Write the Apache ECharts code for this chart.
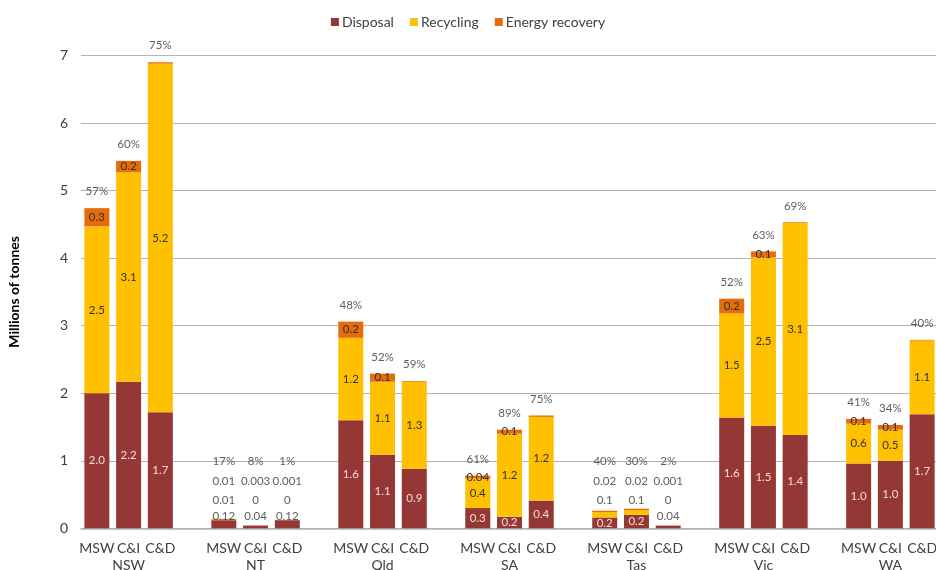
<!DOCTYPE html>
<html>
<head>
<meta charset="utf-8">
<script src="https://cdn.jsdelivr.net/npm/echarts@6/dist/echarts.min.js"></script>
<style>html,body{margin:0;padding:0;background:#fff}#c{width:936px;height:570px}</style>
</head>
<body>
<div id="c"></div>
<script>
// ---- data (millions of tonnes) ----
const states = ['NSW', 'NT', 'Qld', 'SA', 'Tas', 'Vic', 'WA'];
const streams = ['MSW', 'C&I', 'C&D'];
// order: per state MSW, C&I, C&D
const disposal = [2.0, 2.17, 1.72, 0.12, 0.04, 0.12, 1.60, 1.09, 0.88, 0.30, 0.17, 0.41, 0.16, 0.2, 0.04, 1.64, 1.52, 1.38, 0.96, 1.0, 1.69];
const recycling = [2.47, 3.10, 5.16, 0.01, 0, 0, 1.22, 1.08, 1.29, 0.44, 1.23, 1.24, 0.08, 0.07, 0, 1.54, 2.49, 3.14, 0.59, 0.46, 1.09];
const energy = [0.27, 0.17, 0.02, 0.01, 0.003, 0.001, 0.24, 0.12, 0.01, 0.04, 0.06, 0.02, 0.02, 0.02, 0.001, 0.22, 0.09, 0.01, 0.07, 0.07, 0.01];
const recoveryRate = [57, 60, 75, 17, 8, 1, 48, 52, 59, 61, 89, 75, 40, 30, 2, 52, 63, 69, 41, 34, 40];
const yMin = 0, yMax = 7, yInterval = 1;

// ---- build category slots (blank slot between states) ----
const cats = [];
const slotOf = [];
states.forEach((s, g) => {
  streams.forEach((st, k) => {
    slotOf.push(cats.length);
    cats.push(st + '|' + (k === 1 ? s : '') + '|' + cats.length);
  });
  if (g < states.length - 1) cats.push('||' + cats.length);
});
const N = cats.length;
const totals = disposal.map((d, i) => d + recycling[i] + energy[i]);

function fmt(v, total) {
  if (v === 0) return '0';
  if (v < 0.05) return String(v);
  if (total < 0.2) return String(v);
  return v.toFixed(1);
}

const FONT = 'Lato, "Noto Sans", sans-serif';
const TXT = '#404040';

function barData(arr, key) {
  const out = new Array(N).fill(null);
  arr.forEach((v, i) => {
    const t = totals[i];
    let show;
    if (t >= 0.5) show = !(key === 'energy' && v < 0.03);
    else show = (key === 'disposal' && v >= 0.15);
    out[slotOf[i]] = { value: v, label: { show: show } };
  });
  return out;
}

// annotation labels (percentages, and values above the tiny bars)
const ann = [];
disposal.forEach((d, i) => {
  const s = slotOf[i], t = totals[i];
  if (t >= 0.5) {
    ann.push({ value: [s, t], txt: recoveryRate[i] + '%', label: { position: 'top', distance: 10 } });
  } else {
    if (d < 0.15) ann.push({ value: [s, 0.175], txt: fmt(d, t) });
    ann.push({ value: [s, 0.42], txt: fmt(recycling[i], t) });
    ann.push({ value: [s, 0.69], txt: fmt(energy[i], t) });
    ann.push({ value: [s, 0.99], txt: recoveryRate[i] + '%' });
  }
});

const labelBase = { show: true, position: 'inside', fontFamily: FONT, fontSize: 11.5 };

const chart = echarts.init(document.getElementById('c'), null, { renderer: 'canvas' });
chart.setOption({
  animation: false,
  textStyle: { fontFamily: FONT },
  legend: {
    data: ['Disposal', 'Recycling', 'Energy recovery'],
    left: 'center', top: 10,
    icon: 'rect', itemWidth: 8, itemHeight: 8, itemGap: 16,
    textStyle: { fontFamily: FONT, fontSize: 14, color: TXT, padding: [0, 0, 0, -2] }
  },
  grid: { left: 81, right: -2, top: 55.5, bottom: 41.7, containLabel: false, outerBoundsMode: 'none' },
  xAxis: {
    type: 'category',
    data: cats,
    boundaryGap: true,
    axisTick: { show: false },
    axisLine: { lineStyle: { color: '#b3b3b3', width: 1.5 } },
    axisLabel: {
      interval: 0, margin: 12, fontFamily: FONT, fontSize: 14, color: TXT, lineHeight: 17,
      formatter: v => { const p = v.split('|'); if (!p[0]) return ''; return p[1] ? p[0] + '\n' + p[1] : p[0]; }
    }
  },
  yAxis: {
    type: 'value', min: yMin, max: yMax, interval: yInterval,
    name: 'Millions of tonnes', nameLocation: 'middle', nameGap: 60,
    nameTextStyle: { fontFamily: FONT, fontSize: 14, fontWeight: 'bold', color: '#000' },
    axisLine: { show: false }, axisTick: { show: false },
    axisLabel: { margin: 13, fontFamily: FONT, fontSize: 14, color: TXT },
    splitLine: { lineStyle: { color: '#b3b3b3', width: 1 } }
  },
  series: [
    { name: 'Disposal', type: 'bar', stack: 'a', barWidth: 25, data: barData(disposal, 'disposal'),
      itemStyle: { color: '#953735' },
      label: Object.assign({}, labelBase, { color: '#F2DCDB', formatter: p => fmt(p.value, totals[slotOf.indexOf(p.dataIndex)]) }) },
    { name: 'Recycling', type: 'bar', stack: 'a', barWidth: 25, data: barData(recycling, 'recycling'),
      itemStyle: { color: '#FFC000' },
      label: Object.assign({}, labelBase, { color: '#333', formatter: p => fmt(p.value, totals[slotOf.indexOf(p.dataIndex)]) }) },
    { name: 'Energy recovery', type: 'bar', stack: 'a', barWidth: 25, data: barData(energy, 'energy'),
      itemStyle: { color: '#E46C0A' },
      label: Object.assign({}, labelBase, { color: '#333', formatter: p => fmt(p.value, totals[slotOf.indexOf(p.dataIndex)]) }) },
    { name: 'ann', type: 'scatter', symbolSize: 1, silent: true, z: 5,
      itemStyle: { color: 'rgba(0,0,0,0)' },
      data: ann,
      label: { show: true, position: 'inside', fontFamily: FONT, fontSize: 11.5, color: '#333',
        formatter: p => p.data.txt } }
  ]
});
</script>
</body>
</html>
